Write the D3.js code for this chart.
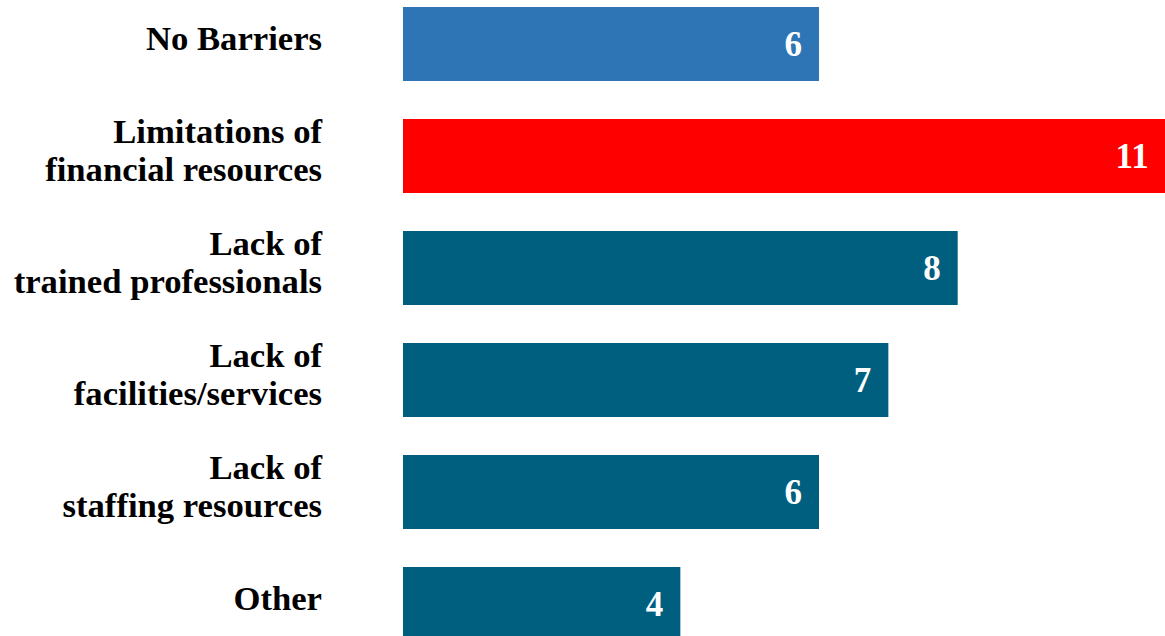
<!DOCTYPE html>
<html>
<head>
<meta charset="utf-8">
<script src="https://cdn.jsdelivr.net/npm/d3@7"></script>
<style>
  html, body { margin: 0; padding: 0; background: #ffffff; overflow: hidden; }
  svg { display: block; }
</style>
</head>
<body>
<svg id="chart" width="1165" height="636"></svg>
<script>
const categories = [
  "No Barriers",
  "Limitations of\nfinancial resources",
  "Lack of\ntrained professionals",
  "Lack of\nfacilities/services",
  "Lack of\nstaffing resources",
  "Other"
];
const values = [6, 11, 8, 7, 6, 4];
const barColors = ["#2E75B6", "#FF0000", "#005F7E", "#005F7E", "#005F7E", "#005F7E"];

const svg = d3.select("#chart");
const fontFamily = "'Liberation Serif', 'DejaVu Serif', serif";

const x = d3.scaleLinear().domain([0, 11]).range([403, 1165.7]);
const y = d3.scaleBand().domain(categories).range([7, 641]).paddingInner(0.3393).paddingOuter(0);

const rows = svg.selectAll("g.row")
  .data(categories.map((c, i) => ({ c, v: values[i], color: barColors[i] })))
  .join("g").attr("class", "row");

rows.append("rect")
  .attr("x", x(0))
  .attr("y", d => y(d.c))
  .attr("width", d => x(d.v) - x(0))
  .attr("height", y.bandwidth())
  .attr("fill", d => d.color);

rows.append("text")
  .attr("x", d => x(d.v) - 17)
  .attr("y", d => y(d.c) + y.bandwidth() / 2 + 12)
  .attr("text-anchor", "end")
  .attr("fill", "#ffffff")
  .attr("font-family", fontFamily)
  .attr("font-weight", "bold")
  .attr("font-size", 35)
  .text(d => d.v);

const labelX = 322;
rows.each(function(d) {
  const lines = d.c.split("\n");
  const cy = y(d.c) + y.bandwidth() / 2;
  const t = d3.select(this).append("text")
    .attr("text-anchor", "end")
    .attr("fill", "#000000")
    .attr("font-family", fontFamily)
    .attr("font-weight", "bold")
    .attr("font-size", 33)
    .attr("transform", `translate(${labelX},0) scale(1.05,1)`);
  const offsets = lines.length === 1 ? [6] : [-12.5, 25.5];
  lines.forEach((ln, i) => {
    t.append("tspan").attr("x", 0).attr("y", cy + offsets[i]).text(ln);
  });
});
</script>
</body>
</html>
